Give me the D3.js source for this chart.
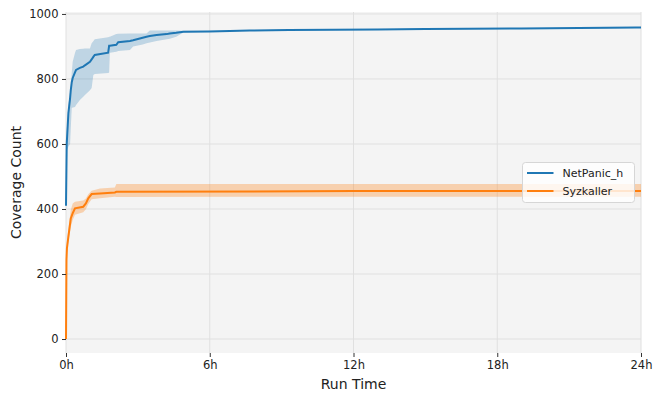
<!DOCTYPE html>
<html>
<head>
<meta charset="utf-8">
<script src="https://cdn.jsdelivr.net/npm/d3@7"></script>
<style>
  body { margin: 0; background: #fff; }
  text { font-family: "DejaVu Sans", sans-serif; }
</style>
</head>
<body>
<svg id="chart" width="654" height="394"></svg>
<script>
// hours since start, mean coverage, band low / high
var netT    = [0,   0.03, 0.1, 0.17, 0.2, 0.24, 0.28, 0.375, 0.42, 0.58, 0.72, 0.79, 1.0, 1.07, 1.14, 1.2, 1.76, 1.8, 1.83, 2.1, 2.18, 2.67, 2.8, 3.2, 3.36, 3.5, 3.78, 4.2, 4.33, 4.6, 4.9, 6, 7.67, 9.3, 13, 15, 19, 23.8, 24],
    netMean = [410, 600,  695, 740,  766, 790,  803, 820,   828, 834, 838, 842,  853, 860,  868,  874, 881,  902, 902,  905, 913,  917,  919, 927, 930,  932, 935,  938, 940,  942, 945, 946, 949, 951, 952, 954, 955, 958, 958],
    netLow  = [410, 580,  592, 600,  650, 711,  712, 714,   720, 735, 745, 751,  765, 772,  812,  815, 818,  820, 881,  884, 886,  889,  900, 906, 910,  912, 917,  922, 924,  930, 943, 945, 948, 950, 951, 953, 954, 957, 957],
    netHigh = [410, 640,  720, 760,  776, 820,  853, 880,   889, 892, 893, 894,  894, 910,  916,  922, 928,  930, 930,  938, 939,  940,  940, 940, 940,  949, 949,  949, 949,  949, 948, 948, 950, 952, 953, 955, 956, 959, 959];

var syzT    = [0, 0.02, 0.04, 0.1, 0.2, 0.28, 0.375, 0.72, 0.83, 0.93, 1.07, 1.42, 2.04, 2.1, 12, 24],
    syzMean = [0, 243,  280,  315, 371, 387,  402,   407,  417,  433,  446,  448,  451,  453,  455, 455],
    syzLow  = [0, 230,  270,  300, 345, 366,  382,   390,  399,  415,  430,  433,  438,  437,  438, 438],
    syzHigh = [0, 250,  300,  340, 397, 417,  422,   426,  432,  445,  456,  463,  466,  477,  477, 477];

var xTicks = [0, 6, 12, 18, 24],
    yTicks = [0, 200, 400, 600, 800, 1000];

var series = [
  {name: 'NetPanic_h', color: '#1f77b4', bandOpacity: 0.25, t: netT, mean: netMean, low: netLow, high: netHigh},
  {name: 'Syzkaller',  color: '#ff7f0e', bandOpacity: 0.3,  t: syzT, mean: syzMean, low: syzLow, high: syzHigh}
];

var svg = d3.select('#chart'),
    plotLeft = 66, plotRight = 641, plotTop = 12, plotBottom = 353;

var x = d3.scaleLinear().domain([0, 24]).range([plotLeft, plotRight]),
    y = d3.scaleLinear().domain([-43, 1006]).range([plotBottom, plotTop]);

svg.append('rect')
  .attr('x', plotLeft).attr('y', plotTop)
  .attr('width', plotRight - plotLeft).attr('height', plotBottom - plotTop)
  .attr('fill', '#f4f4f4');

// grid
svg.append('g').selectAll('line').data(xTicks)
  .enter().append('line')
  .attr('x1', function(d) { return x(d); }).attr('x2', function(d) { return x(d); })
  .attr('y1', plotTop).attr('y2', plotBottom)
  .attr('stroke', '#e0e0e0').attr('stroke-width', 1);
svg.append('g').selectAll('line').data(yTicks)
  .enter().append('line')
  .attr('x1', plotLeft).attr('x2', plotRight)
  .attr('y1', function(d) { return y(d); }).attr('y2', function(d) { return y(d); })
  .attr('stroke', '#e0e0e0').attr('stroke-width', 1);

var plot = svg.append('g');

series.forEach(function(s) {
  var pts = s.t.map(function(t, i) { return {t: t, lo: s.low[i], hi: s.high[i]}; });
  plot.append('path')
    .datum(pts)
    .attr('fill', s.color)
    .attr('fill-opacity', s.bandOpacity)
    .attr('d', d3.area()
      .x(function(d) { return x(d.t); })
      .y0(function(d) { return y(d.lo); })
      .y1(function(d) { return y(d.hi); }));
});
series.forEach(function(s) {
  var pts = s.t.map(function(t, i) { return {t: t, m: s.mean[i]}; });
  plot.append('path')
    .datum(pts)
    .attr('fill', 'none')
    .attr('stroke', s.color)
    .attr('stroke-width', 2)
    .attr('d', d3.line()
      .x(function(d) { return x(d.t); })
      .y(function(d) { return y(d.m); }));
});

// axes
var xAxis = svg.append('g')
  .attr('transform', 'translate(0,' + plotBottom + ')')
  .call(d3.axisBottom(x).tickValues(xTicks).tickSize(4).tickPadding(4)
    .tickFormat(function(d) { return d + 'h'; }));
var yAxis = svg.append('g')
  .attr('transform', 'translate(' + plotLeft + ',0)')
  .call(d3.axisLeft(y).tickValues(yTicks).tickSize(4).tickPadding(3.5)
    .tickFormat(d3.format('d')));
[xAxis, yAxis].forEach(function(a) {
  a.select('.domain').remove();
  a.selectAll('.tick line').attr('stroke', '#333').attr('stroke-width', 1);
  a.selectAll('.tick text').attr('fill', '#222')
    .style('font-family', '"DejaVu Sans", sans-serif').style('font-size', '11.5px');
});

svg.append('text')
  .attr('x', (plotLeft + plotRight) / 2).attr('y', 389)
  .attr('text-anchor', 'middle')
  .style('font-size', '14px').attr('fill', '#222')
  .text('Run Time');
svg.append('text')
  .attr('transform', 'translate(21,' + ((plotTop + plotBottom) / 2) + ') rotate(-90)')
  .attr('text-anchor', 'middle')
  .style('font-size', '14px').attr('fill', '#222')
  .text('Coverage Count');

// legend
var legend = svg.append('g').attr('transform', 'translate(522.5,162.5)');
legend.append('rect')
  .attr('width', 112).attr('height', 40).attr('rx', 3)
  .attr('fill', '#fff').attr('fill-opacity', 0.8)
  .attr('stroke', '#d6d6d6').attr('stroke-width', 1);
var entry = legend.selectAll('.entry').data(series)
  .enter().append('g')
  .attr('class', 'entry')
  .attr('transform', function(d, i) { return 'translate(0,' + (10.5 + i * 18) + ')'; });
entry.append('line')
  .attr('x1', 4.5).attr('x2', 31)
  .attr('stroke', function(d) { return d.color; })
  .attr('stroke-width', 2);
entry.append('text')
  .attr('x', 40).attr('dy', '0.35em')
  .style('font-size', '11px').attr('fill', '#222')
  .text(function(d) { return d.name; });
</script>
</body>
</html>
